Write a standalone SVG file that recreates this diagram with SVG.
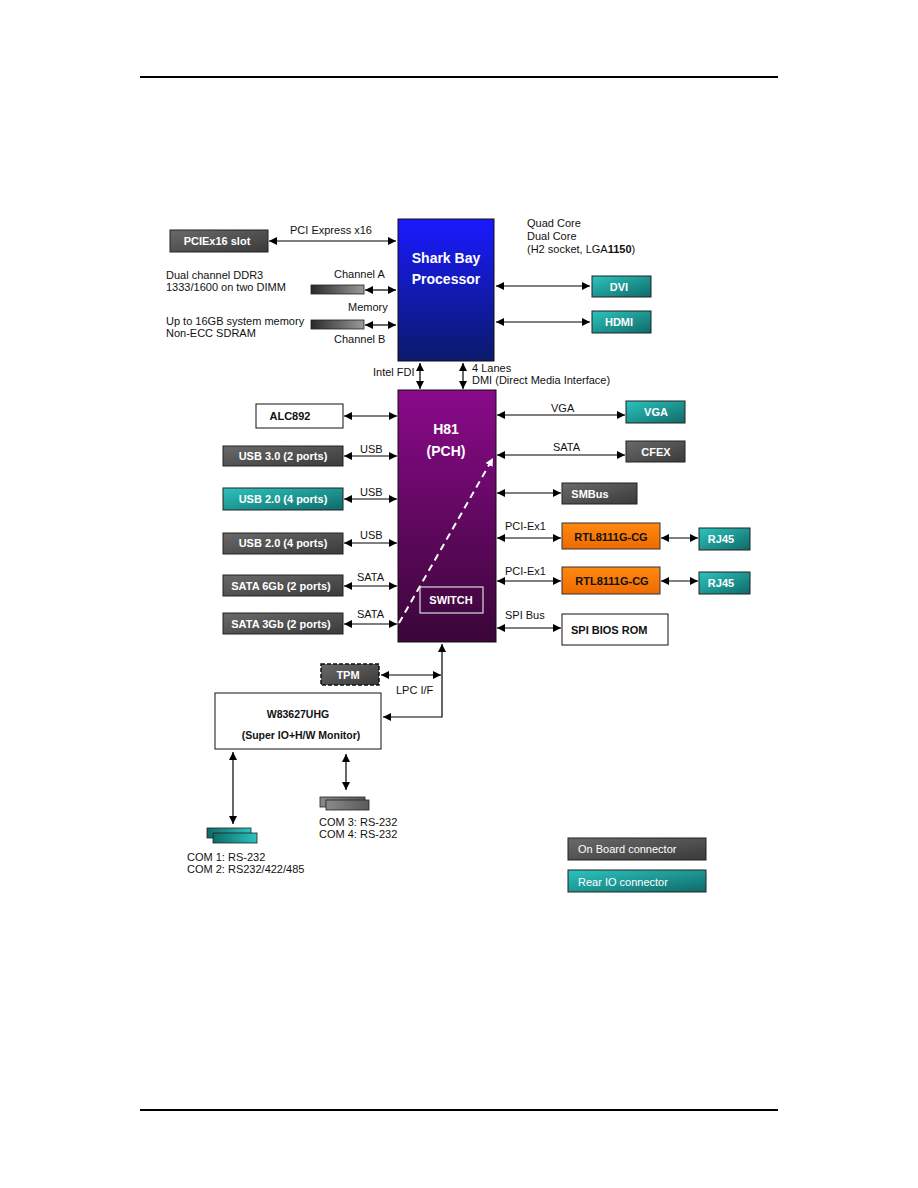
<svg xmlns="http://www.w3.org/2000/svg" width="918" height="1188" viewBox="0 0 918 1188">
<defs>
<linearGradient id="gGray" x1="0" y1="0" x2="1" y2="1"><stop offset="0" stop-color="#6a6a6a"/><stop offset="1" stop-color="#3a3a3a"/></linearGradient>
<linearGradient id="gTeal" x1="0" y1="0" x2="1" y2="1"><stop offset="0" stop-color="#2cc4bf"/><stop offset="1" stop-color="#0f6a68"/></linearGradient>
<linearGradient id="gBlue" x1="0" y1="0" x2="0" y2="1"><stop offset="0" stop-color="#1a1aff"/><stop offset="1" stop-color="#0a1a6a"/></linearGradient>
<linearGradient id="gPurple" x1="0" y1="0" x2="0" y2="1"><stop offset="0" stop-color="#8a0a8a"/><stop offset="1" stop-color="#3a0638"/></linearGradient>
<linearGradient id="gOrange" x1="0" y1="0" x2="0" y2="1"><stop offset="0" stop-color="#ff8a10"/><stop offset="1" stop-color="#ee6a00"/></linearGradient>
<linearGradient id="gDimm" x1="0" y1="0" x2="1" y2="0"><stop offset="0" stop-color="#2a2a2a"/><stop offset="1" stop-color="#9a9a9a"/></linearGradient>
<linearGradient id="gComT" x1="0" y1="0" x2="1" y2="0"><stop offset="0" stop-color="#0f6a68"/><stop offset="1" stop-color="#2cc4bf"/></linearGradient>
<linearGradient id="gComG" x1="0" y1="0" x2="1" y2="0"><stop offset="0" stop-color="#8a8a8a"/><stop offset="1" stop-color="#5a5a5a"/></linearGradient>
<marker id="ah" viewBox="0 0 10 10" refX="10" refY="5" markerWidth="8" markerHeight="8" markerUnits="userSpaceOnUse" orient="auto-start-reverse"><path d="M0,0 L10,5 L0,10 z" fill="#000"/></marker>
<marker id="ahw" viewBox="0 0 10 10" refX="10" refY="5" markerWidth="8" markerHeight="8" markerUnits="userSpaceOnUse" orient="auto"><path d="M0,0 L10,5 L0,10 z" fill="#fff"/></marker>
</defs>
<style>
text{font-family:"Liberation Sans",Arial,sans-serif;font-size:11px;fill:#111}
.b{font-weight:bold}
.w{fill:#fff;font-weight:bold}
.c{text-anchor:middle}
.gray{fill:url(#gGray);stroke:#222;stroke-width:1}
.teal{fill:url(#gTeal);stroke:#222;stroke-width:1}
.wbox{fill:#fff;stroke:#111;stroke-width:1}
.orange{fill:url(#gOrange);stroke:#333;stroke-width:1}
.ln{stroke:#000;stroke-width:1.2;fill:none}
.dbl{marker-start:url(#ah);marker-end:url(#ah)}
</style>
<line x1="140" y1="77" x2="778" y2="77" stroke="#000" stroke-width="2"/>
<line x1="140" y1="1110" x2="778" y2="1110" stroke="#000" stroke-width="2"/>

<g id="connectors">
<line class="ln dbl" x1="269" y1="241" x2="396" y2="241"/>
<line class="ln dbl" x1="365" y1="290" x2="396" y2="290"/>
<line class="ln dbl" x1="365" y1="325" x2="396" y2="325"/>
<line class="ln dbl" x1="496" y1="286" x2="590" y2="286"/>
<line class="ln dbl" x1="496" y1="322" x2="590" y2="322"/>
<line class="ln dbl" x1="420" y1="363" x2="420" y2="389"/>
<line class="ln dbl" x1="463" y1="363" x2="463" y2="389"/>
<line class="ln dbl" x1="344" y1="416" x2="397" y2="416"/>
<line class="ln dbl" x1="344" y1="456" x2="397" y2="456"/>
<line class="ln dbl" x1="344" y1="499" x2="397" y2="499"/>
<line class="ln dbl" x1="344" y1="543" x2="397" y2="543"/>
<line class="ln dbl" x1="344" y1="586" x2="397" y2="586"/>
<line class="ln dbl" x1="344" y1="624" x2="397" y2="624"/>
<line class="ln dbl" x1="497" y1="415" x2="625" y2="415"/>
<line class="ln dbl" x1="497" y1="455" x2="625" y2="455"/>
<line class="ln dbl" x1="497" y1="493" x2="561" y2="493"/>
<line class="ln dbl" x1="497" y1="538" x2="561" y2="538"/>
<line class="ln dbl" x1="661" y1="538" x2="698" y2="538"/>
<line class="ln dbl" x1="497" y1="581" x2="561" y2="581"/>
<line class="ln dbl" x1="661" y1="581" x2="698" y2="581"/>
<line class="ln dbl" x1="497" y1="628" x2="561" y2="628"/>
<path class="ln" d="M442,644 L442,717 L383,717" marker-start="url(#ah)" marker-end="url(#ah)"/>
<line class="ln dbl" x1="381" y1="675" x2="441" y2="675"/>
<line class="ln dbl" x1="233" y1="752" x2="233" y2="824"/>
<line class="ln dbl" x1="346" y1="754" x2="346" y2="790"/>
</g>

<g id="pciex16"><rect class="gray" x="170" y="230" width="98" height="22"/><text class="w c" x="217" y="245">PCIEx16 slot</text></g>
<text x="290" y="234">PCI Express x16</text>

<g id="processor"><rect x="398" y="219" width="96" height="142" fill="url(#gBlue)" stroke="#111"/>
<text class="w c" x="446" y="263" style="font-size:14px">Shark Bay</text>
<text class="w c" x="446" y="284" style="font-size:14px">Processor</text></g>
<text x="527" y="227">Quad Core</text>
<text x="527" y="240">Dual Core</text>
<text x="527" y="253">(H2 socket, LGA<tspan class="b">1150</tspan>)</text>

<g id="dvi"><rect class="teal" x="592" y="276" width="59" height="21"/><text class="w c" x="619" y="291">DVI</text></g>
<g id="hdmi"><rect class="teal" x="592" y="311" width="59" height="22"/><text class="w c" x="619" y="326">HDMI</text></g>

<text x="166" y="279">Dual channel DDR3</text>
<text x="166" y="291">1333/1600 on two DIMM</text>
<text x="334" y="278">Channel A</text>
<g id="dimmA"><rect x="311" y="285" width="53" height="9" fill="url(#gDimm)" stroke="#222" stroke-width="0.8"/></g>
<text x="348" y="311">Memory</text>
<text x="166" y="325">Up to 16GB system memory</text>
<text x="166" y="337">Non-ECC SDRAM</text>
<g id="dimmB"><rect x="311" y="320" width="53" height="9" fill="url(#gDimm)" stroke="#222" stroke-width="0.8"/></g>
<text x="334" y="343">Channel B</text>

<text x="373" y="376">Intel FDI</text>
<text x="472" y="372">4 Lanes</text>
<text x="472" y="384">DMI (Direct Media Interface)</text>

<g id="pch"><rect x="398" y="390" width="98" height="252" fill="url(#gPurple)" stroke="#111"/>
<text class="w c" x="446" y="434" style="font-size:14px">H81</text>
<text class="w c" x="446" y="456" style="font-size:14px">(PCH)</text>
<line x1="399" y1="623" x2="493" y2="458" stroke="#fff" stroke-width="2" stroke-dasharray="7,5" marker-end="url(#ahw)"/>
<rect x="420" y="587" width="63" height="26" fill="none" stroke="#ddd" stroke-width="1.2"/>
<text class="w c" x="451" y="604">SWITCH</text></g>

<g id="alc892"><rect class="wbox" x="256" y="404" width="87" height="24"/><text class="b c" x="290" y="420">ALC892</text></g>
<g id="usb30"><rect class="gray" x="223" y="446" width="120" height="20"/><text class="w c" x="283" y="460">USB 3.0 (2 ports)</text></g>
<text x="360" y="453">USB</text>
<g id="usb20a"><rect class="teal" x="223" y="488" width="120" height="22"/><text class="w c" x="283" y="503">USB 2.0 (4 ports)</text></g>
<text x="360" y="496">USB</text>
<g id="usb20b"><rect class="gray" x="223" y="533" width="120" height="21"/><text class="w c" x="283" y="547">USB 2.0 (4 ports)</text></g>
<text x="360" y="539">USB</text>
<g id="sata6"><rect class="gray" x="223" y="575" width="120" height="21"/><text class="w c" x="281" y="590">SATA 6Gb (2 ports)</text></g>
<text x="357" y="581">SATA</text>
<g id="sata3"><rect class="gray" x="223" y="613" width="120" height="21"/><text class="w c" x="281" y="628">SATA 3Gb (2 ports)</text></g>
<text x="357" y="618">SATA</text>

<g id="vga"><rect class="teal" x="626" y="401" width="59" height="22"/><text class="w c" x="656" y="416">VGA</text></g>
<text x="551" y="412">VGA</text>
<g id="cfex"><rect class="gray" x="626" y="441" width="59" height="21"/><text class="w c" x="656" y="456">CFEX</text></g>
<text x="553" y="451">SATA</text>
<g id="smbus"><rect class="gray" x="562" y="483" width="75" height="21"/><text class="w c" x="590" y="498">SMBus</text></g>
<g id="rtl1"><rect class="orange" x="562" y="523" width="98" height="26"/><text class="b c" x="611" y="541">RTL8111G-CG</text></g>
<text x="505" y="530">PCI-Ex1</text>
<g id="rj45a"><rect class="teal" x="699" y="528" width="51" height="22"/><text class="w c" x="721" y="543">RJ45</text></g>
<g id="rtl2"><rect class="orange" x="562" y="567" width="98" height="27"/><text class="b c" x="612" y="585">RTL8111G-CG</text></g>
<text x="505" y="575">PCI-Ex1</text>
<g id="rj45b"><rect class="teal" x="699" y="572" width="51" height="22"/><text class="w c" x="721" y="587">RJ45</text></g>
<g id="spirom"><rect class="wbox" x="562" y="614" width="106" height="31"/><text class="b" x="571" y="634">SPI BIOS ROM</text></g>
<text x="505" y="619">SPI Bus</text>

<g id="tpm"><rect x="321" y="664" width="58" height="21" fill="url(#gGray)" stroke="#111" stroke-width="1.5" stroke-dasharray="4,2"/><text class="w c" x="348" y="679">TPM</text></g>
<text x="396" y="694">LPC I/F</text>

<g id="w83627"><rect class="wbox" x="215" y="693" width="166" height="56"/>
<text class="b c" x="298" y="718" style="font-size:10.5px">W83627UHG</text>
<text class="b c" x="301" y="739" style="font-size:10.5px">(Super IO+H/W Monitor)</text></g>

<g id="com34"><rect x="320" y="797" width="45" height="10" fill="url(#gComG)" stroke="#222" stroke-width="0.8"/><rect x="326" y="800" width="43" height="10" fill="url(#gComG)" stroke="#222" stroke-width="0.8"/></g>
<text x="319" y="826">COM 3: RS-232</text>
<text x="319" y="838">COM 4: RS-232</text>
<g id="com12"><rect x="207" y="828" width="44" height="10" fill="url(#gComT)" stroke="#222" stroke-width="0.8"/><rect x="213" y="833" width="44" height="10" fill="url(#gComT)" stroke="#222" stroke-width="0.8"/></g>
<text x="187" y="861">COM 1: RS-232</text>
<text x="187" y="873">COM 2: RS232/422/485</text>

<g id="legend-onboard"><rect class="gray" x="568" y="838" width="138" height="22"/><text x="578" y="853" style="fill:#fff">On Board connector</text></g>
<g id="legend-rear"><rect class="teal" x="568" y="870" width="138" height="22"/><text x="578" y="886" style="fill:#fff">Rear IO connector</text></g>
</svg>
